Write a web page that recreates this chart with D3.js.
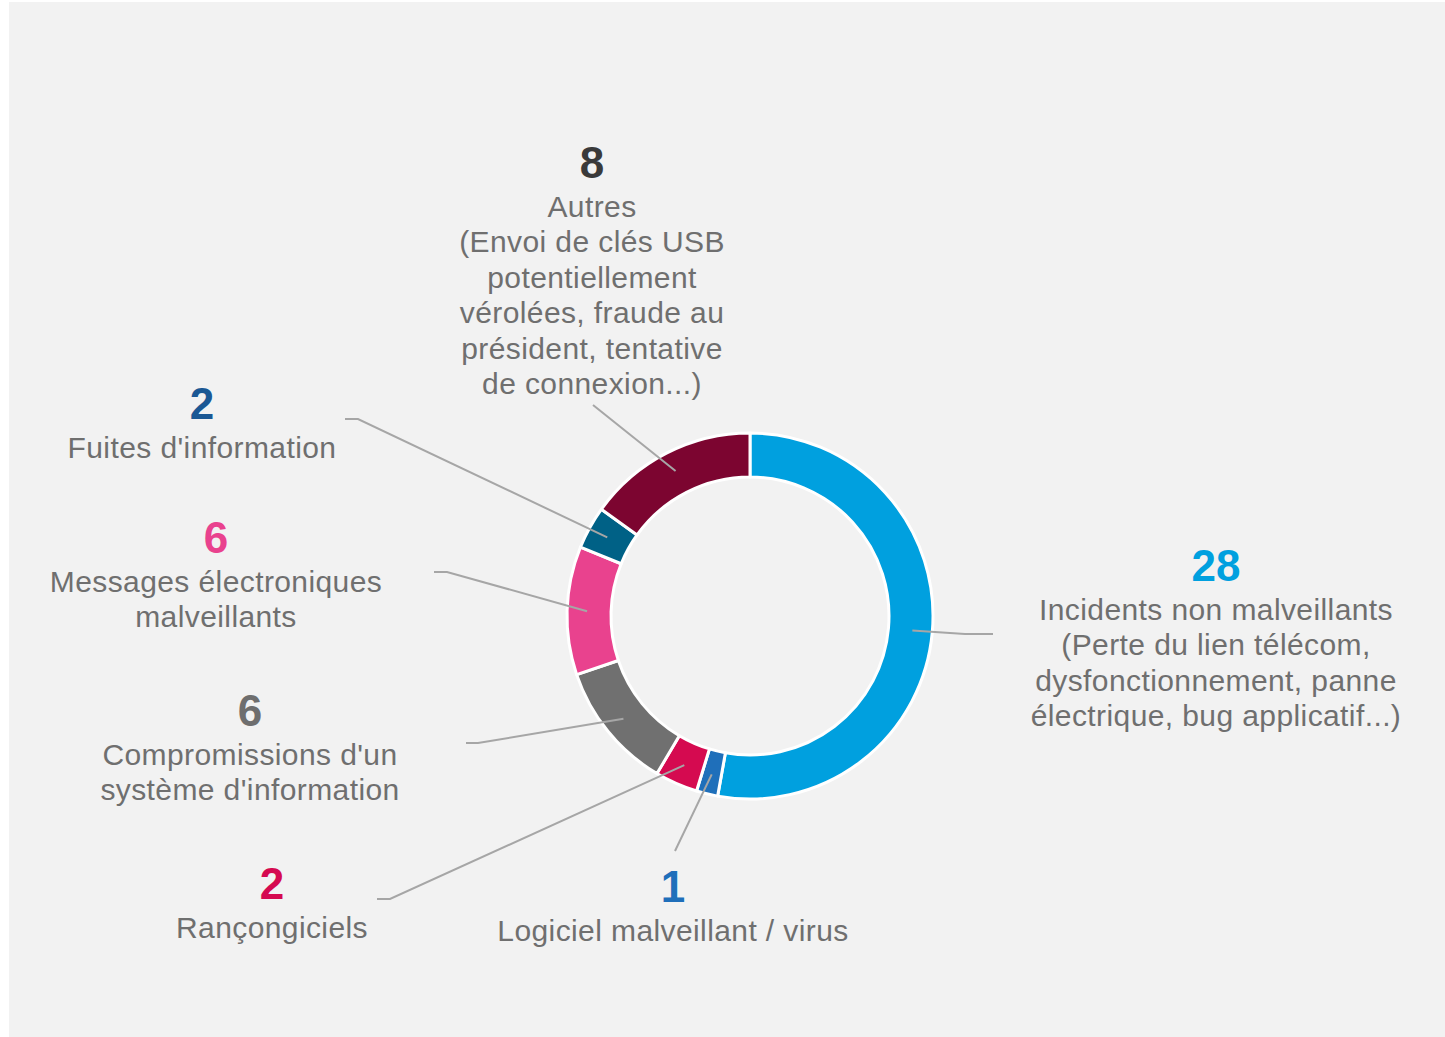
<!DOCTYPE html>
<html>
<head>
<meta charset="utf-8">
<script src="https://cdn.jsdelivr.net/npm/d3@7"></script>
<style>
  body { margin: 0; background: #ffffff; }
  svg { display: block; }
</style>
</head>
<body>
<div id="viz"></div>
<script>
// data, in clockwise order from the top
var categories = ['incidents', 'logiciel', 'rancon', 'compromissions', 'messages', 'fuites', 'autres'];
var values = [28, 1, 2, 6, 6, 2, 8];
var sliceColors = ['#00A0DF', '#1F6FBA', '#D50A50', '#707070', '#E9428E', '#006186', '#7C0530'];
var numberColors = ['#00A0DF', '#1F6FBA', '#D50A50', '#6E6E6E', '#E9428E', '#1B5894', '#3A3A3A'];
var labelLines = [
    ['Incidents non malveillants', '(Perte du lien télécom,', 'dysfonctionnement, panne', 'électrique, bug applicatif...)'],
    ['Logiciel malveillant / virus'],
    ['Rançongiciels'],
    ['Compromissions d\'un', 'système d\'information'],
    ['Messages électroniques', 'malveillants'],
    ['Fuites d\'information'],
    ['Autres', '(Envoi de clés USB', 'potentiellement', 'vérolées, fraude au', 'président, tentative', 'de connexion...)']
];

// layout: label centre x, number baseline y, leader line end and elbow
var labelPos = {
    incidents:      { x: 1216, y: 581, end: [993, 634], elbow: [965, 634] },
    logiciel:       { x: 673,  y: 902, end: [675, 851], elbow: null },
    rancon:         { x: 272,  y: 899, end: [377, 899], elbow: [390, 899] },
    compromissions: { x: 250,  y: 726, end: [466, 743], elbow: [478, 743] },
    messages:       { x: 216,  y: 553, end: [434, 572], elbow: [447, 572] },
    fuites:         { x: 202,  y: 419, end: [345, 419], elbow: [358, 419] },
    autres:         { x: 592,  y: 178, end: [593, 405], elbow: null }
};

var W = 1445, H = 1037;
var cx = 750, cy = 616;
var rOuter = 183, rInner = 139;

var svg = d3.select('#viz').append('svg')
    .attr('width', W)
    .attr('height', H);

svg.append('rect')
    .attr('x', 9)
    .attr('y', 2)
    .attr('width', W - 9)
    .attr('height', H - 2)
    .attr('fill', '#f2f2f2');

var rows = categories.map(function(c, i) {
    return { key: c, value: values[i], color: sliceColors[i], numColor: numberColors[i], lines: labelLines[i] };
});

var pie = d3.pie()
    .sort(null)
    .value(function(d) { return d.value; });

var arc = d3.arc()
    .innerRadius(rInner)
    .outerRadius(rOuter);

var leaderArc = d3.arc()
    .innerRadius(163)
    .outerRadius(163);

var arcs = pie(rows);

var g = svg.append('g')
    .attr('transform', 'translate(' + cx + ',' + cy + ')');

g.selectAll('path.slice')
    .data(arcs)
    .enter().append('path')
    .attr('class', 'slice')
    .attr('d', arc)
    .attr('fill', function(d) { return d.data.color; })
    .attr('stroke', '#ffffff')
    .attr('stroke-width', 3)
    .attr('stroke-linejoin', 'round');

// leader lines
var lineGen = d3.line();
svg.append('g').selectAll('path.leader')
    .data(arcs)
    .enter().append('path')
    .attr('class', 'leader')
    .attr('fill', 'none')
    .attr('stroke', '#A6A6A6')
    .attr('stroke-width', 2)
    .attr('d', function(d) {
        var p = labelPos[d.data.key];
        var c = leaderArc.centroid(d);
        var pts = [[cx + c[0], cy + c[1]]];
        if (p.elbow) pts.push(p.elbow);
        pts.push(p.end);
        return lineGen(pts);
    });

// labels
var lab = svg.append('g').selectAll('g.label')
    .data(arcs)
    .enter().append('g')
    .attr('class', 'label');

lab.append('text')
    .attr('x', function(d) { return labelPos[d.data.key].x; })
    .attr('y', function(d) { return labelPos[d.data.key].y; })
    .attr('text-anchor', 'middle')
    .style('font-family', '"Liberation Sans", Arial, sans-serif')
    .style('font-weight', 'bold')
    .style('font-size', '44px')
    .attr('fill', function(d) { return d.data.numColor; })
    .text(function(d) { return d.data.value; });

lab.each(function(d) {
    var p = labelPos[d.data.key];
    var t = d3.select(this).append('text')
        .attr('text-anchor', 'middle')
        .style('font-family', '"Liberation Sans", Arial, sans-serif')
        .style('font-size', '30px')
        .style('letter-spacing', '0.4px')
        .attr('fill', '#6F6F6F');
    d.data.lines.forEach(function(s, i) {
        t.append('tspan')
            .attr('x', p.x)
            .attr('y', p.y + 39 + i * 35.4)
            .text(s);
    });
});
</script>
</body>
</html>
